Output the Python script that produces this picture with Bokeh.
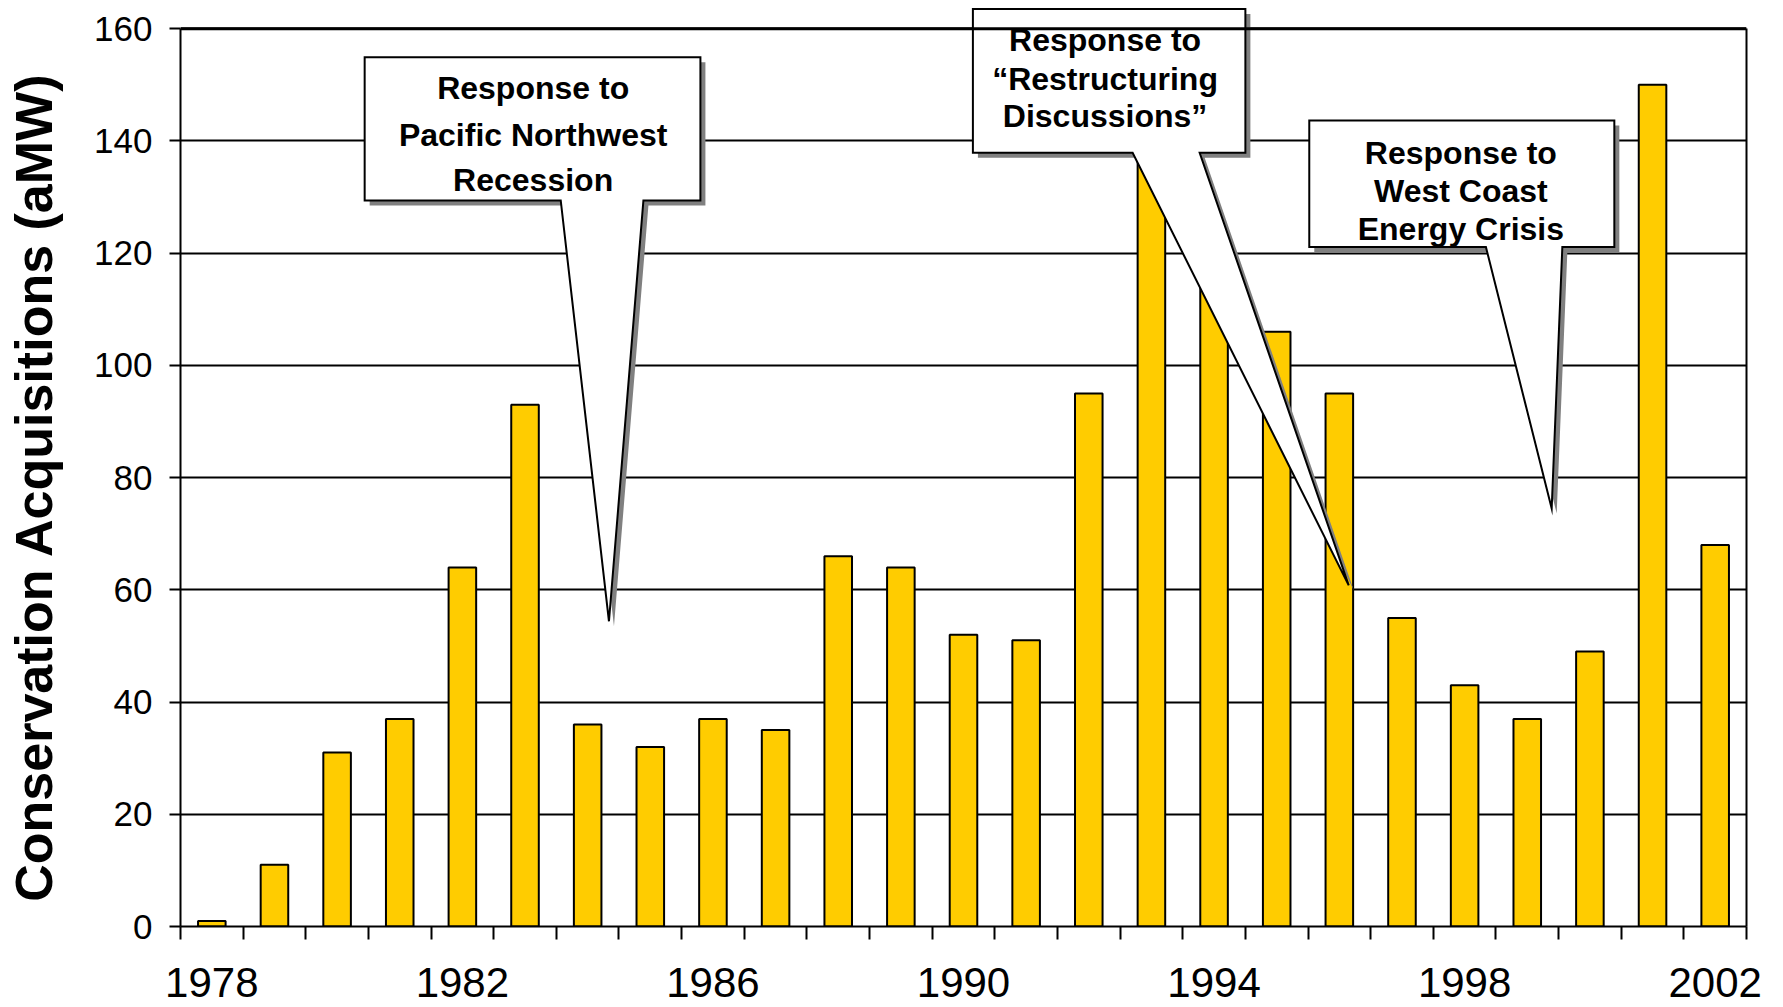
from bokeh.plotting import figure
from bokeh.models import FixedTicker, LinearAxis, Range1d, Span
from bokeh.core.properties import value
from bokeh.embed import file_html
from bokeh.resources import INLINE

# ---- data ----
years = list(range(1978, 2003))
acquisitions = [1, 11, 31, 37, 64, 93, 36, 32, 37, 35, 66, 64, 52, 51, 95,
                140, 118, 106, 95, 55, 43, 37, 49, 150, 68]
x_tick_labels = [1978, 1982, 1986, 1990, 1994, 1998, 2002]
y_ticks = [0, 20, 40, 60, 80, 100, 120, 140, 160]
y_title = "Conservation Acquisitions (aMW)"

# ---- callout annotations ----
callout_lines = [
    ["Response to", "Pacific Northwest", "Recession"],
    ["Response to", "\u201cRestructuring", "Discussions\u201d"],
    ["Response to", "West Coast", "Energy Crisis"],
]
callout_tip = [(1984.34, 54.4), (1996.15, 60.8), (1999.39, 74.5)]
callout_box = [(1980.44, 1985.80, 129.4, 154.9),
               (1990.15, 1994.50, 137.9, 163.5),
               (1995.52, 2000.39, 121.1, 143.65)]
callout_base = [(1983.57, 1984.89), (1992.70, 1993.77), (1998.34, 1999.56)]
callout_text_x = [1983.13, 1992.26, 1997.94]
callout_text_y = [[149.35, 141.15, 133.13],
                  [157.94, 151.04, 144.37],
                  [137.77, 131.08, 124.34]]

Y_TOP = 164.32
FONT = "Liberation Sans"

p = figure(width=1783, height=1007,
           x_range=Range1d(1977.5, 2002.5), y_range=Range1d(0, Y_TOP),
           output_backend="svg", toolbar_location=None,
           min_border_left=180, min_border_right=37,
           min_border_top=4, min_border_bottom=81)
p.outline_line_color = None
p.background_fill_color = "white"
p.border_fill_color = "white"

# axes
xa = p.xaxis[0]
xa.ticker = FixedTicker(ticks=x_tick_labels,
                        minor_ticks=[y - 0.5 for y in years] + [years[-1] + 0.5])
xa.major_tick_out = 0
xa.major_tick_in = 0
xa.minor_tick_out = 13
xa.minor_tick_in = 0
xa.minor_tick_line_width = 2
xa.minor_tick_line_color = "black"
xa.axis_line_width = 2
xa.axis_line_color = "black"
xa.major_label_text_font = FONT
xa.major_label_text_font_size = "42px"
xa.major_label_text_color = "black"
xa.major_label_standoff = 28

ya = p.yaxis[0]
ya.ticker = FixedTicker(ticks=y_ticks)
ya.bounds = (0, 160)
ya.major_tick_out = 11
ya.major_tick_in = 0
ya.major_tick_line_width = 2
ya.minor_tick_out = 0
ya.minor_tick_in = 0
ya.axis_line_width = 2
ya.axis_line_color = "black"
ya.major_label_text_font = FONT
ya.major_label_text_font_size = "35px"
ya.major_label_text_color = "black"
ya.major_label_standoff = 17
# trailing no-break spaces nudge the centred title slightly downwards
ya.axis_label = y_title + "\u00a0\u00a0\u00a0"
ya.axis_label_text_font = FONT
ya.axis_label_text_font_style = "bold"
ya.axis_label_text_font_size = "52px"
ya.axis_label_text_color = "black"
ya.axis_label_standoff = 28

rax = LinearAxis(ticker=FixedTicker(ticks=[]), bounds=(0, 160),
                 axis_line_width=2, axis_line_color="black",
                 major_tick_out=0, minor_tick_out=0)
p.add_layout(rax, "right")

p.xgrid.visible = False
p.ygrid.ticker = FixedTicker(ticks=y_ticks)
p.ygrid.grid_line_color = "black"
p.ygrid.grid_line_width = 2
p.add_layout(Span(location=160, dimension="width", line_color="black", line_width=3))

# bars
p.vbar(x=years, top=acquisitions, width=0.44, bottom=0,
       fill_color="#FFCC00", line_color="black", line_width=2)

# callouts
dx, dy = 0.08, -0.89
xs, ys, sxs, sys_ = [], [], [], []
for (L, R, B, T), (b1, b2), (tx, ty) in zip(callout_box, callout_base, callout_tip):
    px = [L, R, R, b2, tx, b1, L]
    py = [T, T, B, B, ty, B, B]
    xs.append(px)
    ys.append(py)
    sxs.append([v + dx for v in px])
    sys_.append([v + dy for v in py])

p.patches(sxs, sys_, fill_color="#808080", line_color=None)
p.patches(xs, ys, fill_color="white", line_color="black", line_width=2,
          line_join="miter")

for lines, cx, cys in zip(callout_lines, callout_text_x, callout_text_y):
    p.text(x=[cx] * len(lines), y=cys, text=lines,
           text_font=value(FONT), text_font_style="bold",
           text_font_size="32px", text_align="center",
           text_baseline="alphabetic", text_color="black")

open("out.html", "w").write(file_html(p, INLINE))
